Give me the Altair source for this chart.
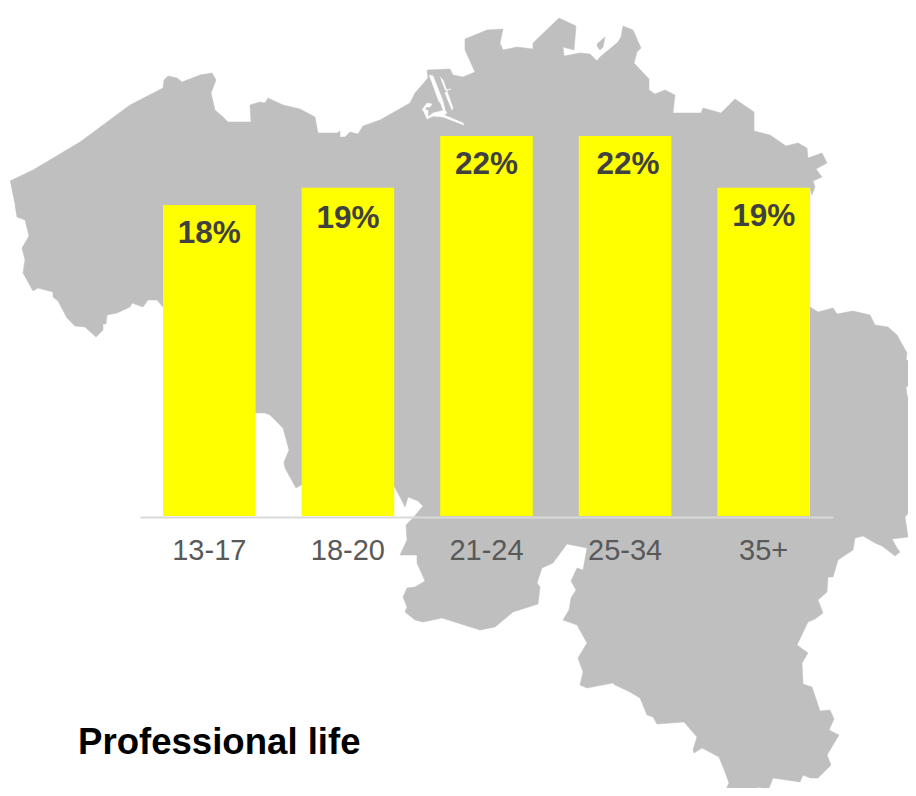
import altair as alt
import pandas as pd

# Map outline (Belgium), in picture-like units
land_x = [10,33,80,130,163,164,168,177,182,200,212,216,211,215,223,228,251,250,260,265,268,283,300,315,318,337,340,340,345,350,358,363,380,410,415,428,427,450,453,463,475,465,465,487,503,500,503,517,533,533,559,576,574,563,564,580,590,597,600,618,621,623,633,641,637,634,649,649,655,665,675,673,687,701,703,721,735,754,754,770,786,798,807,808,822,827,816,822,813,815,812,810,810,818,833,837,853,870,875,888,897,907,906,916,916,906,907,910,916,916,905,908,892,897,900,895,890,882,875,863,855,853,838,833,828,827,818,823,815,808,797,808,802,803,812,820,830,834,829,839,827,831,818,810,803,800,773,767,760,737,730,727,729,725,719,702,694,693,697,684,657,653,647,640,630,615,613,587,580,583,578,587,577,563,569,571,576,571,577,583,587,567,553,542,537,540,538,513,495,480,442,423,415,405,407,403,407,415,425,417,417,405,400,407,406,413,423,418,408,405,400,394,301,296,285,284,289,283,270,265,255,163,157,148,143,132,130,117,107,106,103,103,96,85,75,67,58,53,53,38,33,23,25,22,29,25,17,15]
land_y = [181,170,142,105,88,80,76,78,82,75,73,80,93,110,117,122,122,105,102,103,98,105,109,117,133,133,131,137,137,132,134,126,120,103,93,78,70,69,75,77,72,50,39,30,29,43,50,47,49,43,18,26,50,47,56,53,54,61,57,42,37,26,30,48,52,63,79,90,94,90,95,113,113,113,108,113,99,112,131,135,146,143,148,158,153,163,169,177,181,187,195,188,307,312,308,314,311,315,325,327,335,353,360,363,382,387,395,403,408,504,517,537,539,548,552,556,552,546,543,536,538,550,560,577,577,592,600,613,619,622,645,653,663,684,687,711,710,719,730,735,755,765,778,778,775,782,778,793,787,795,795,787,783,772,757,748,753,750,737,722,724,717,715,698,692,685,683,688,685,672,658,643,625,620,610,598,590,581,568,570,548,544,563,568,583,587,604,612,627,630,618,622,620,612,607,597,588,587,581,563,555,555,555,540,525,518,506,501,497,507,497,486,485,488,468,462,450,428,415,413,413,307,300,300,307,303,307,313,315,324,324,330,337,327,326,318,301,297,292,288,291,273,260,248,236,220,217,205]
islet_x = [597,605,603,600,597]
islet_y = [44,37,47,50,46]
slit_a_x = [429,433,443,445,443,441,438]
slit_a_y = [75,76,101,110,110,104,100]
slit_b_x = [422,427,432,430,426,425,428,428,433,445,447,444,463,464,443,433,427,424]
slit_b_y = [110,103,104,107,107,110,110,117,113,110,113,115,123,125,117,116,119,112]
slit_c_x = [440,443,453,452,445,448,451,445]
slit_c_y = [77,80,108,110,93,90,89,90]

# Bars
ages = ["13-17", "18-20", "21-24", "25-34", "35+"]
shares = [18, 19, 22, 22, 19]
labels = ["18%", "19%", "22%", "22%", "19%"]
label_nudge = [(0, 38), (0, 40), (0, 38), (3, 38), (0, 38)]

W, H = 900, 780
map_x_scale = alt.Scale(domain=[8, 908], range=[0, W], nice=False, zero=False)
map_y_scale = alt.Scale(domain=[8, 788], range=[0, H], nice=False, zero=False)


def shape(xs, ys, colour):
    df = pd.DataFrame({"px": xs, "py": ys, "i": range(len(xs))})
    return alt.Chart(df).mark_line(fill=colour, stroke=colour, strokeWidth=0.5).encode(
        x=alt.X("px:Q", scale=map_x_scale, axis=None),
        y=alt.Y("py:Q", scale=map_y_scale, axis=None),
        order="i:Q",
    )


background = alt.layer(
    shape(land_x, land_y, "#bfbfbf"),
    shape(islet_x, islet_y, "#bfbfbf"),
    shape(slit_a_x, slit_a_y, "#ffffff"),
    shape(slit_b_x, slit_b_y, "#ffffff"),
    shape(slit_c_x, slit_c_y, "#ffffff"),
)

bars_df = pd.DataFrame({"age": ages, "share": shares, "label": labels})
x_band = alt.Scale(domain=ages, range=[132, 825], paddingInner=0.332, paddingOuter=0.166)
y_share = alt.Scale(domain=[0, 22], range=[508, 128], nice=False)

x_enc = alt.X(
    "age:N", scale=x_band, sort=ages, title=None,
    axis=alt.Axis(
        offset=509 - H, labelAngle=0, ticks=False, domainColor="#d9d9d9", domainWidth=2,
        labelColor="#595959", labelFont="Liberation Sans", labelFontSize=29,
        labelPadding=19, grid=False, zindex=1,
    ),
)
y_enc = alt.Y("share:Q", scale=y_share, axis=None)

bars = alt.Chart(bars_df).mark_bar(color="#ffff00").encode(x=x_enc, y=y_enc)

texts = [
    alt.Chart(bars_df.iloc[[i]]).mark_text(
        font="Liberation Sans", fontSize=31.5, fontWeight="bold", color="#404040",
        baseline="alphabetic", dx=dx, dy=dy,
    ).encode(x=x_enc, y=y_enc, text="label:N")
    for i, (dx, dy) in enumerate(label_nudge)
]

foreground = alt.layer(bars, *texts)

caption = alt.Chart(pd.DataFrame({"t": ["Professional life"]})).mark_text(
    font="Liberation Sans", fontSize=36.6, fontWeight="bold", color="#000000",
    align="left", baseline="alphabetic",
).encode(x=alt.value(70), y=alt.value(746), text="t:N")

chart = alt.layer(background, foreground, caption).resolve_scale(
    x="independent", y="independent"
).properties(
    width=W, height=H, padding=0, autosize=alt.AutoSizeParams(type="none"),
).configure_view(stroke=None)

chart.save("out.html", embed_options={"renderer": "svg", "actions": False})
